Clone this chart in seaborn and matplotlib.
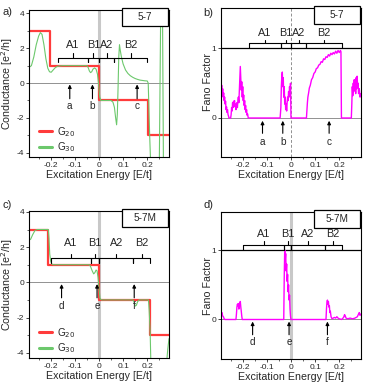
import seaborn as sns
import numpy as np
import pandas as pd
import matplotlib.pyplot as plt
from matplotlib.patches import Rectangle
from matplotlib.ticker import MultipleLocator

# ---- data ----
# G20 step values (5-7 and 5-7M)
g20_a_E = [-0.30, -0.205, 0.0, 0.205, 0.30]
g20_a_G = [3, 1, -1, -3, -3]
g20_c_E = [-0.30, -0.21, 0.0, 0.21, 0.30]
g20_c_G = [3, 1, -1, -3, -3]

# G30 curves
g30_a_E = [-0.29, -0.28, -0.27, -0.26, -0.25, -0.243, -0.236, -0.228, -0.22, -0.212,
           -0.205, -0.198, -0.19, -0.18, -0.17, -0.15, -0.10, -0.05, -0.045, -0.04,
           -0.035, -0.03, -0.025, -0.018, -0.012, -0.006, -0.002, 0.003, 0.008, 0.05,
           0.058, 0.064, 0.069, 0.073, 0.076, 0.079, 0.082, 0.085, 0.088, 0.093,
           0.10, 0.11, 0.12, 0.13, 0.14, 0.15, 0.16, 0.17, 0.18, 0.19,
           0.20, 0.204, 0.207, 0.21, 0.214, 0.25, 0.256, 0.259, 0.263, 0.267, 0.29]
g30_a_G = [0.9, 1.0, 1.5, 2.2, 2.7, 2.9, 2.8, 2.2, 1.4, 0.85,
           0.65, 0.62, 0.75, 0.9, 0.97, 1.0, 1.0, 1.0, 0.9, 0.7,
           0.6, 0.65, 0.8, 0.87, 0.8, 0.5, 0.0, -0.8, -1.0, -1.0,
           -1.1, -1.4, -2.0, -2.4, -1.8, -0.3, 1.5, 2.2, 1.9, 1.5,
           1.1, 0.75, 0.55, 0.42, 0.33, 0.26, 0.21, 0.17, 0.15, 0.13,
           0.12, 0.0, -1.5, -3.0, -4.6, -4.6, 4.6, 4.6, 4.6, -4.6, -4.6]

g30_c_E = [-0.29, -0.283, -0.275, -0.265, -0.255, -0.21, -0.207, -0.204, -0.20, -0.196,
           -0.19, -0.04, -0.035, -0.028, -0.022, -0.017, -0.012, -0.008, -0.004, 0.0,
           0.004, 0.01, 0.14, 0.145, 0.15, 0.155, 0.16, 0.166, 0.205, 0.208,
           0.212, 0.215, 0.28, 0.285, 0.29]
g30_c_G = [2.4, 2.45, 2.7, 2.95, 3.0, 3.0, 2.5, 1.6, 1.2, 1.05,
           1.0, 1.0, 0.9, 0.65, 0.48, 0.55, 0.7, 0.65, 0.3, -0.3,
           -0.9, -1.0, -1.0, -1.1, -1.35, -1.3, -1.1, -1.0, -1.0, -1.6,
           -2.8, -4.6, -4.6, -3.8, -3.2]

# Fano factor curves
fano_b_E = [-0.295, -0.293, -0.291, -0.289, -0.287, -0.285, -0.283, -0.281, -0.279, -0.277,
            -0.275, -0.273, -0.271, -0.269, -0.267, -0.265, -0.263, -0.261, -0.259, -0.257,
            -0.250, -0.248, -0.246, -0.244, -0.242, -0.240, -0.238, -0.236, -0.234, -0.232,
            -0.230, -0.228, -0.226, -0.224, -0.222, -0.220, -0.218, -0.216, -0.214, -0.212,
            -0.210, -0.208, -0.206, -0.204, -0.202, -0.200, -0.198, -0.196, -0.194, -0.192,
            -0.190, -0.188, -0.186, -0.184, -0.182, -0.180, -0.177, -0.045, -0.042, -0.040,
            -0.038, -0.036, -0.034, -0.032, -0.030, -0.028, -0.026, -0.024, -0.022, -0.020,
            -0.018, -0.016, -0.014, -0.012, -0.010, -0.008, -0.006, -0.004, -0.002, 0.0,
            0.064, 0.066, 0.068, 0.070, 0.073, 0.076, 0.080, 0.085, 0.090, 0.095,
            0.100, 0.105, 0.110, 0.115, 0.120, 0.125, 0.130, 0.135, 0.140, 0.145,
            0.150, 0.155, 0.160, 0.165, 0.170, 0.175, 0.180, 0.185, 0.190, 0.195,
            0.200, 0.205, 0.207, 0.209, 0.250, 0.252, 0.254, 0.256, 0.258, 0.260,
            0.262, 0.264, 0.266, 0.268, 0.270, 0.272, 0.274, 0.276, 0.278, 0.280,
            0.283, 0.286, 0.290]
fano_b_F = [0.62, 0.45, 0.58, 0.40, 0.47, 0.33, 0.42, 0.30, 0.36, 0.25,
            0.30, 0.20, 0.24, 0.12, 0.16, 0.08, 0.12, 0.05, 0.03, 0.0,
            0.0, 0.05, 0.15, 0.10, 0.22, 0.15, 0.24, 0.18, 0.25, 0.16,
            0.20, 0.12, 0.18, 0.22, 0.15, 0.25, 0.30, 0.22, 0.40, 0.58,
            0.74, 0.55, 0.40, 0.52, 0.30, 0.45, 0.25, 0.33, 0.18, 0.25,
            0.12, 0.18, 0.08, 0.12, 0.04, 0.06, 0.0, 0.0, 0.15, 0.45,
            0.60, 0.66, 0.45, 0.58, 0.30, 0.45, 0.20, 0.30, 0.12, 0.20,
            0.10, 0.22, 0.30, 0.25, 0.38, 0.30, 0.45, 0.35, 0.50, 0.0,
            0.0, 0.12, 0.22, 0.30, 0.36, 0.43, 0.47, 0.55, 0.58, 0.64,
            0.66, 0.71, 0.72, 0.76, 0.77, 0.81, 0.80, 0.85, 0.84, 0.88,
            0.87, 0.91, 0.89, 0.93, 0.91, 0.94, 0.92, 0.96, 0.93, 0.97,
            0.94, 0.97, 0.95, 0.0, 0.0, 0.2, 0.45, 0.32, 0.50, 0.38,
            0.55, 0.40, 0.50, 0.35, 0.58, 0.42, 0.60, 0.45, 0.50, 0.35,
            0.42, 0.30, 0.35]

fano_d_E = [-0.295, -0.292, -0.289, -0.286, -0.283, -0.280, -0.277, -0.274, -0.228, -0.226,
            -0.224, -0.222, -0.220, -0.218, -0.216, -0.214, -0.212, -0.210, -0.208, -0.206,
            -0.204, -0.202, -0.030, -0.028, -0.026, -0.024, -0.022, -0.020, -0.018, -0.016,
            -0.014, -0.012, -0.010, -0.008, -0.006, -0.004, -0.002, 0.0, 0.145, 0.147,
            0.149, 0.151, 0.153, 0.155, 0.157, 0.159, 0.161, 0.163, 0.166, 0.170,
            0.175, 0.180, 0.185, 0.190, 0.195, 0.200, 0.210, 0.218, 0.222, 0.225,
            0.228, 0.235, 0.245, 0.255, 0.265, 0.275, 0.280, 0.283, 0.286, 0.290]
fano_d_F = [0.10, 0.12, 0.08, 0.10, 0.05, 0.04, 0.01, 0.0, 0.0, 0.08,
            0.18, 0.22, 0.20, 0.23, 0.15, 0.20, 0.24, 0.26, 0.18, 0.12,
            0.05, 0.0, 0.0, 0.6, 1.0, 0.85, 0.95, 0.70, 0.80, 0.55,
            0.65, 0.40, 0.50, 0.28, 0.35, 0.15, 0.05, 0.0, 0.0, 0.15,
            0.25, 0.28, 0.22, 0.26, 0.18, 0.20, 0.10, 0.12, 0.04, 0.01,
            0.02, 0.03, 0.02, 0.04, 0.02, 0.01, 0.0, 0.03, 0.07, 0.05,
            0.02, 0.01, 0.02, 0.01, 0.02, 0.04, 0.08, 0.10, 0.06, 0.08]

# region brackets (edges) and labels
region_names = ["A1", "B1", "A2", "B2"]
brace_a = [-0.169, -0.046, 0.0, 0.064, 0.20]
brace_b = [-0.173, -0.042, 0.0, 0.063, 0.21]
brace_c = [-0.199, -0.035, 0.0, 0.143, 0.21]
brace_d = [-0.197, -0.028, 0.0, 0.140, 0.21]

# arrows marking energies
arrow_names_top = ["a", "b", "c"]
arrow_names_bot = ["d", "e", "f"]
arrow_a = [-0.121, -0.027, 0.158]
arrow_b = [-0.118, -0.034, 0.158]
arrow_c = [-0.155, -0.008, 0.146]
arrow_d = [-0.159, -0.008, 0.151]

sns.set_theme(style="ticks")
plt.rcParams['font.family'] = ['Liberation Sans', 'DejaVu Sans']
plt.rcParams['axes.linewidth'] = 0.8
plt.rcParams['axes.unicode_minus'] = False

RED = "#ff3b3b"
GREEN = "#6cc86c"
MAG = "#ff00ff"
FS = 7.2

fig = plt.figure(figsize=(3.74, 3.86), dpi=100)
ax_a = fig.add_axes([0.0775, 0.5933, 0.3743, 0.3808])
ax_b = fig.add_axes([0.5909, 0.5933, 0.3743, 0.3860])
ax_c = fig.add_axes([0.0775, 0.0725, 0.3743, 0.3808])
ax_d = fig.add_axes([0.5909, 0.0699, 0.3743, 0.3808])


def draw_braces(ax, edges, y, dn, up, ylab):
  for i in range(len(edges) - 1):
    x0, x1 = edges[i], edges[i + 1]
    xm = 0.5 * (x0 + x1)
    ax.plot([x0, x1], [y, y], color="black", lw=0.8)
    ax.plot([x0, x0], [y, y - dn], color="black", lw=0.8)
    ax.plot([x1, x1], [y, y - dn], color="black", lw=0.8)
    ax.plot([xm, xm], [y, y + up], color="black", lw=0.8)
    ax.text(xm, ylab, region_names[i], ha="center", va="center", fontsize=7.8)


def draw_arrows(ax, xs, names, head, tail, ylab):
  for x, n in zip(xs, names):
    ax.annotate("", xy=(x, head), xytext=(x, tail),
                arrowprops=dict(arrowstyle="-|>", color="black", lw=0.8,
                                mutation_scale=5, shrinkA=0, shrinkB=0))
    ax.text(x, ylab, n, ha="center", va="center", fontsize=FS)


def tag_box(ax, txt):
  ax.add_patch(Rectangle((0.665, 0.89), 0.33, 0.124, transform=ax.transAxes,
                         facecolor="white", edgecolor="black", lw=0.9,
                         clip_on=False, zorder=5))
  ax.text(0.83, 0.952, txt, transform=ax.transAxes, ha="center", va="center",
          fontsize=FS, zorder=6)


def common(ax):
  ax.set_xlim(-0.29, 0.29)
  ax.xaxis.set_minor_locator(MultipleLocator(0.05))
  ax.set_xticks([-0.2, -0.1, 0, 0.1, 0.2])
  ax.set_xticklabels(["-0.2", "-0.1", "0", "0.1", "0.2"])
  ax.tick_params(axis="both", which="major", labelsize=6.0, length=2, width=0.6,
                 pad=1.5, direction="out")
  ax.tick_params(axis="both", which="minor", length=1.2, width=0.5, direction="out")
  ax.set_xlabel("Excitation Energy [E/t]", fontsize=7.7, labelpad=1)
  for s in ax.spines.values():
    s.set_color("black")


# ---- conductance panels ----
for ax, gE, gG, rE, rG, tag, ylim in [
    (ax_a, g30_a_E, g30_a_G, g20_a_E, g20_a_G, "5-7", (-4.25, 4.2)),
    (ax_c, g30_c_E, g30_c_G, g20_c_E, g20_c_G, "5-7M", (-4.3, 4.05))]:
  ax.axvline(0, color="#c8c8c8", lw=2.2, zorder=0)
  ax.axhline(0, color="#808080", lw=0.6, zorder=0)
  red_df = pd.DataFrame({"E": rE, "G": rG})
  green_df = pd.DataFrame({"E": gE, "G": gG})
  sns.lineplot(data=red_df, x="E", y="G", ax=ax, color=RED, lw=1.6,
               drawstyle="steps-post", sort=False, label="G$_{20}$")
  sns.lineplot(data=green_df, x="E", y="G", ax=ax, color=GREEN, lw=0.8,
               sort=False, label="G$_{30}$")
  ax.set_ylim(*ylim)
  ax.set_yticks([-4, -2, 0, 2, 4])
  ax.set_yticklabels(["-4", "-2", "0", "2", "4"])
  ax.yaxis.set_minor_locator(MultipleLocator(1))
  ax.set_ylabel("Conductance [e$^2$/h]", fontsize=7.7)
  ax.yaxis.set_label_coords(-0.1, 0.5)
  common(ax)
  leg = ax.legend(loc="lower left", frameon=False, fontsize=FS, handlelength=1.3,
                  handletextpad=0.5, labelspacing=0.2, borderaxespad=0.3,
                  bbox_to_anchor=(0.02, -0.03))
  for h in leg.legend_handles:
    h.set_linewidth(2.2)
  tag_box(ax, tag)

draw_braces(ax_a, brace_a, 1.45, 0.25, 0.25, 2.17)
draw_braces(ax_c, brace_c, 1.36, 0.25, 0.25, 2.23)
draw_arrows(ax_a, arrow_a, arrow_names_top, -0.08, -0.9, -1.3)
draw_arrows(ax_c, arrow_c, arrow_names_bot, -0.1, -0.88, -1.36)

# ---- Fano panels ----
for ax, fE, fF, tag, ylim in [
    (ax_b, fano_b_E, fano_b_F, "5-7", (-0.56, 1.58)),
    (ax_d, fano_d_E, fano_d_F, "5-7M", (-0.57, 1.55))]:
  if ax is ax_b:
    ax.axvline(0, color="#909090", lw=0.7, ls=(0, (3, 2)), zorder=0)
  else:
    ax.axvline(0, color="#c8c8c8", lw=2.2, zorder=0)
  ax.axhline(0, color="#808080", lw=0.6, zorder=0)
  ax.axhline(1, color="black", lw=0.9, zorder=1)
  fano_df = pd.DataFrame({"E": fE, "F": fF})
  sns.lineplot(data=fano_df, x="E", y="F", ax=ax, color=MAG, lw=1.0, sort=False)
  ax.set_ylim(*ylim)
  ax.set_yticks([0, 1])
  ax.set_yticklabels(["0", "1"])
  ax.set_ylabel("Fano Factor", fontsize=7.7)
  ax.yaxis.set_label_coords(-0.06, 0.5)
  common(ax)
  tag_box(ax, tag)

draw_braces(ax_b, brace_b, 1.07, 0.065, 0.05, 1.22)
draw_braces(ax_d, brace_d, 1.08, 0.075, 0.05, 1.24)
draw_arrows(ax_b, arrow_b, arrow_names_top, -0.04, -0.22, -0.34)
draw_arrows(ax_d, arrow_d, arrow_names_bot, -0.03, -0.22, -0.32)

# panel letters
fig.text(0.008, 1 - 12 / 386, "a)", fontsize=8, va="center")
fig.text(0.543, 1 - 13 / 386, "b)", fontsize=8, va="center")
fig.text(0.008, 1 - 205 / 386, "c)", fontsize=8, va="center")
fig.text(0.543, 1 - 205 / 386, "d)", fontsize=8, va="center")

plt.savefig("out.png", dpi=100)
